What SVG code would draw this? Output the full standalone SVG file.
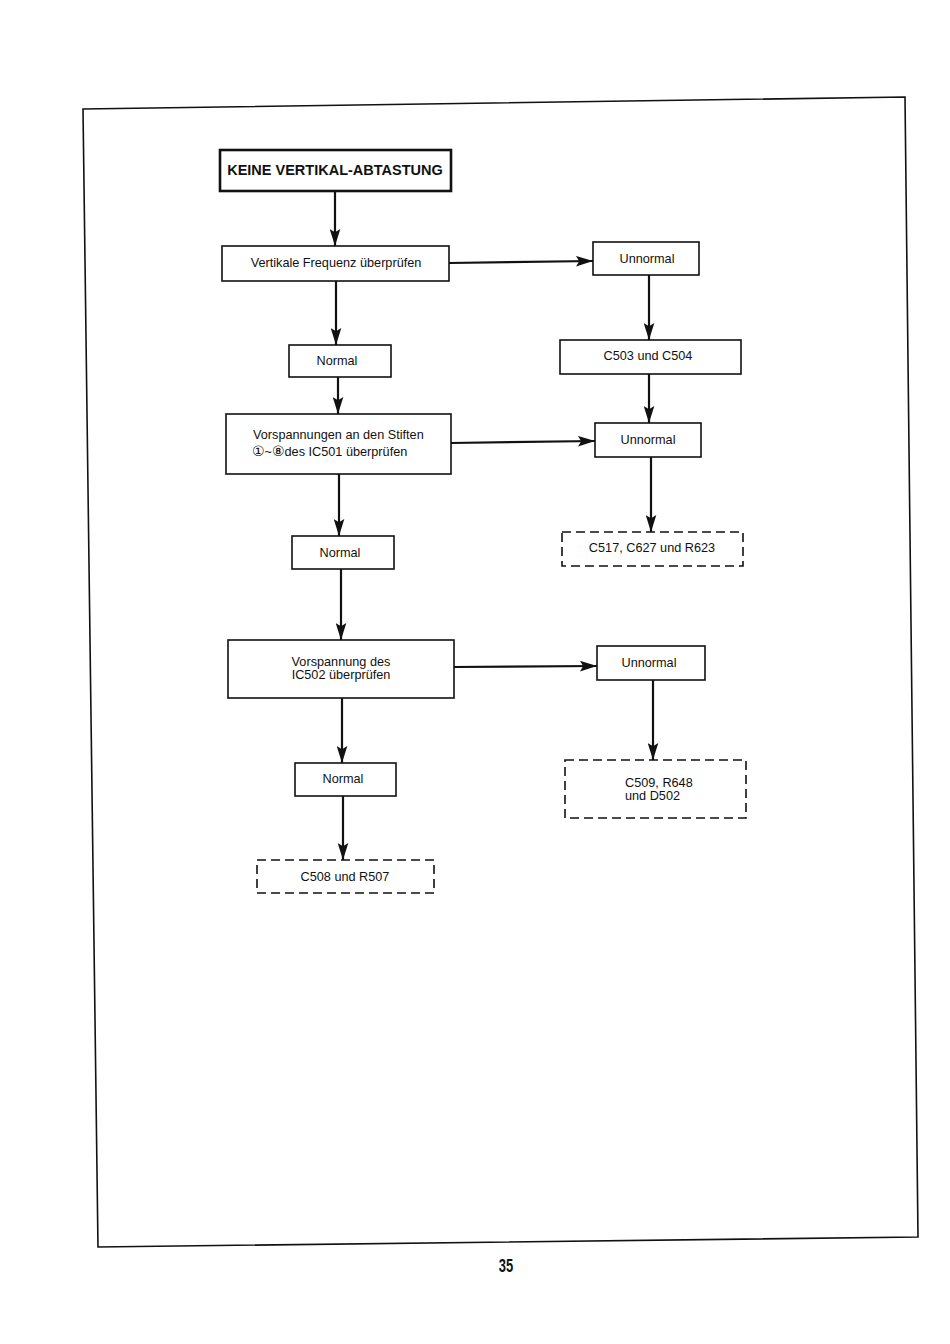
<svg xmlns="http://www.w3.org/2000/svg" width="950" height="1344" viewBox="0 0 950 1344">
<defs>
<marker id="ah" markerUnits="userSpaceOnUse" markerWidth="17" markerHeight="11" refX="16" refY="5" orient="auto" viewBox="0 0 16 10">
<path d="M0,0 L16,5 L0,10 L3,5 Z" fill="#111"/>
</marker>
<style>
.bx{fill:#fff;stroke:#111;stroke-width:1.6}
.ds{fill:#fff;stroke:#111;stroke-width:1.6;stroke-dasharray:9,5}
.t{font-family:"Liberation Sans",Arial,"DejaVu Sans",sans-serif;font-size:12.7px;fill:#111;text-anchor:middle}
.tl{font-family:"Liberation Sans",Arial,"DejaVu Sans",sans-serif;font-size:12.7px;fill:#111}
.cd{font-family:"DejaVu Sans",sans-serif;font-size:14px}
.c{stroke:#111;stroke-width:2.2;fill:none;marker-end:url(#ah)}
</style>
</defs>
<rect width="950" height="1344" fill="#fff"/>
<polygon points="83,109 905,97 918,1237 98,1247" fill="none" stroke="#111" stroke-width="1.6"/>
<text transform="translate(506,1272) scale(0.72,1)" font-family="'Liberation Sans',sans-serif" font-weight="bold" font-size="18" text-anchor="middle" fill="#111">35</text>

<g id="connectors">
<line class="c" x1="335" y1="191" x2="335" y2="246"/>
<line class="c" x1="449" y1="263" x2="593" y2="261"/>
<line class="c" x1="649" y1="275" x2="649" y2="340"/>
<line class="c" x1="649" y1="374" x2="649" y2="423"/>
<line class="c" x1="651" y1="457" x2="651" y2="532"/>
<line class="c" x1="336" y1="281" x2="336" y2="345"/>
<line class="c" x1="338" y1="377" x2="338" y2="414"/>
<line class="c" x1="451" y1="443" x2="595" y2="441"/>
<line class="c" x1="339" y1="474" x2="339" y2="536"/>
<line class="c" x1="341" y1="569" x2="341" y2="640"/>
<line class="c" x1="454" y1="667" x2="597" y2="666"/>
<line class="c" x1="653" y1="680" x2="653" y2="760"/>
<line class="c" x1="342" y1="698" x2="342" y2="763"/>
<line class="c" x1="343" y1="796" x2="343" y2="860"/>
</g>

<g id="title">
<rect x="220" y="150" width="231" height="41" fill="#fff" stroke="#111" stroke-width="2.6"/>
<text x="335" y="175" font-family="'Liberation Sans',Arial,sans-serif" font-weight="bold" font-size="14.5" text-anchor="middle" fill="#111">KEINE VERTIKAL-ABTASTUNG</text>
</g>
<g id="n1">
<rect class="bx" x="222" y="246" width="227" height="35"/>
<text class="t" x="336" y="267">Vertikale Frequenz überprüfen</text>
</g>
<g id="u1">
<rect class="bx" x="593" y="242" width="106" height="33"/>
<text class="t" x="647" y="263">Unnormal</text>
</g>
<g id="c503">
<rect class="bx" x="560" y="340" width="181" height="34"/>
<text class="t" x="648" y="360">C503 und C504</text>
</g>
<g id="u2">
<rect class="bx" x="595" y="423" width="106" height="34"/>
<text class="t" x="648" y="444">Unnormal</text>
</g>
<g id="c517">
<rect class="ds" x="562" y="532" width="181" height="34"/>
<text class="t" x="652" y="552">C517, C627 und R623</text>
</g>
<g id="norm1">
<rect class="bx" x="289" y="345" width="102" height="32"/>
<text class="t" x="337" y="365">Normal</text>
</g>
<g id="n2">
<rect class="bx" x="226" y="414" width="225" height="60"/>
<text class="tl" x="253" y="439">Vorspannungen an den Stiften</text>
<text class="tl" x="252" y="456"><tspan class="cd">①</tspan>~<tspan class="cd">⑧</tspan>des IC501 überprüfen</text>
</g>
<g id="norm2">
<rect class="bx" x="292" y="536" width="102" height="33"/>
<text class="t" x="340" y="557">Normal</text>
</g>
<g id="n3">
<rect class="bx" x="228" y="640" width="226" height="58"/>
<text class="t" x="341" y="666">Vorspannung des</text>
<text class="t" x="341" y="679">IC502 überprüfen</text>
</g>
<g id="u3">
<rect class="bx" x="597" y="646" width="108" height="34"/>
<text class="t" x="649" y="667">Unnormal</text>
</g>
<g id="c509">
<rect class="ds" x="565" y="760" width="181" height="58"/>
<text class="tl" x="625" y="787">C509, R648</text>
<text class="tl" x="625" y="800">und D502</text>
</g>
<g id="norm3">
<rect class="bx" x="295" y="763" width="101" height="33"/>
<text class="t" x="343" y="783">Normal</text>
</g>
<g id="c508">
<rect class="ds" x="257" y="860" width="177" height="33"/>
<text class="t" x="345" y="881">C508 und R507</text>
</g>
</svg>
